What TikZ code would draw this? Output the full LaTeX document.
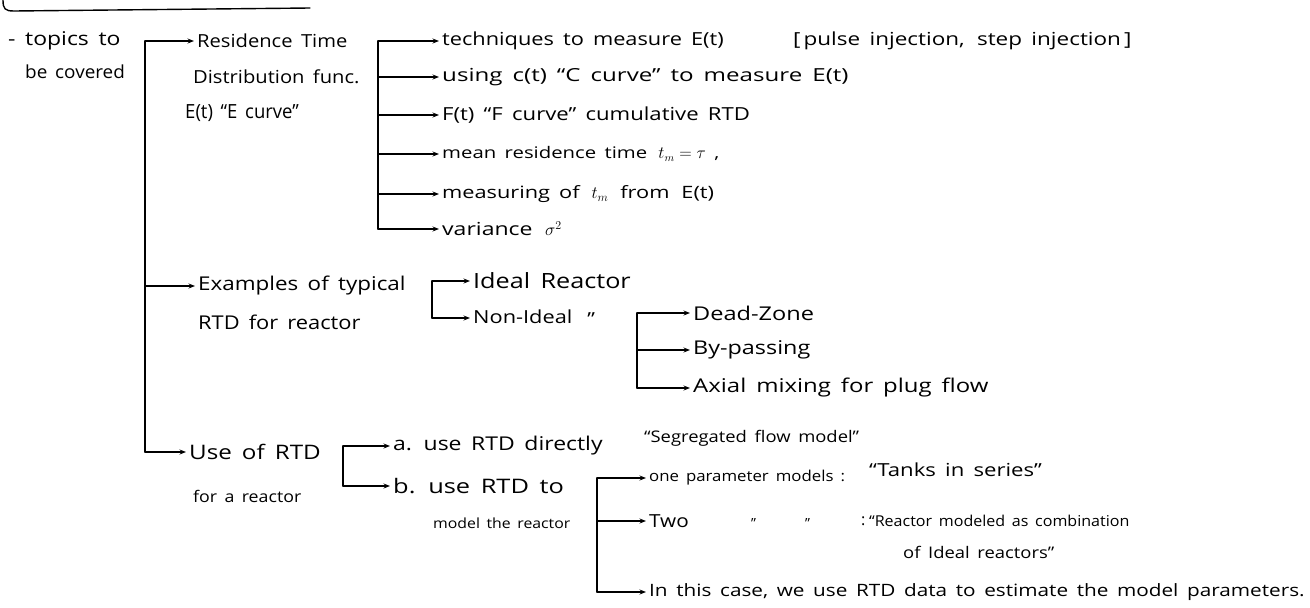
\documentclass[tikz,border=0pt]{standalone}
\usepackage{fontspec}
\setmainfont{Open Sans}[WordSpace=1.6]
\usetikzlibrary{arrows.meta}
\begin{document}
\begin{tikzpicture}[x=1pt,y=-1pt,
  t/.style 2 args={anchor=west,inner sep=3pt,font=\fontsize{#1}{#1}\selectfont\addfontfeature{FakeStretch=#2}},
  ln/.style={line width=1.4pt,line cap=round,line join=round},
  arr/.style={ln,-{Stealth[length=6.5pt,width=5pt]}}]
\useasboundingbox (0,0) rectangle (1310,608);
% top frame edge
\draw[ln] (3,0) .. controls (3,9) and (5,11) .. (14,11) -- (310,8);
% root
\node[t={19}{1.21}] (topics) at (5,41) {- topics to};
\node[t={18}{1.05}] (covered) at (22,72) {be covered};
% level 1
\node[t={18}{1.12}] (rtd) at (194,41) {Residence Time};
\node[t={18}{1.12}] (dist) at (190,77) {Distribution func.};
\node[t={19.5}{0.95}] (ecurve) at (182,113) {E(t) ``E curve''};
\node[t={19}{1.18}] (ex) at (195,286) {Examples of typical};
\node[t={19}{1.15}] (ex2) at (195,322) {RTD for reactor};
\node[t={20}{1.21}] (use) at (186,452) {Use of RTD};
\node[t={16}{1.11}] (forr) at (190,496) {for a reactor};
% RTD branch
\node[t={18}{1.21}] (tech) at (439,41) {techniques to measure E(t)};
\node[t={18}{1.25}] (pulse) at (790,41) {[\,pulse injection,\, step injection\,]};
\node[t={18}{1.34}] (using) at (439,77) {using c(t) ``C curve'' to measure E(t)};
\node[t={18}{1.23}] (fcurve) at (439,115) {F(t) ``F curve'' cumulative RTD};
\node[t={16}{1.27}] (mean) at (439,154) {mean residence time \,$t_m=\tau$ ,};
\node[t={17}{1.28}] (meas) at (439,194) {measuring of \,$t_m$\, from \,E(t)};
\node[t={18}{1.28}] (var) at (439,229) {variance \,$\sigma^2$};
% examples branch
\node[t={21}{1.2}] (ideal) at (470,281) {Ideal Reactor};
\node[t={18}{1.21}] (nonideal) at (470,318) {Non-Ideal \,\,\raisebox{-2pt}{''}};
\node[t={19}{1.24}] (dead) at (690,313) {Dead-Zone};
\node[t={19}{1.23}] (bypass) at (690,350) {By-passing};
\node[t={19}{1.26}] (axial) at (690,388) {Axial mixing for plug flow};
% use branch
\node[t={19}{1.21}] (a) at (390,446) {a. use RTD directly};
\node[t={16}{1.15}] (seg) at (641,438) {``Segregated flow model''};
\node[t={20}{1.27}] (b) at (390,486) {b. use RTD to};
\node[t={14}{1.13}] (model) at (430,523) {model the reactor};
\node[t={15}{1.12}] (one) at (646,478) {one parameter models :};
\node[t={18}{1.23}] (tanks) at (866,470) {``Tanks in series''};
\node[t={18}{1.15}] (two) at (646,521) {Two};
\node[t={14}{1.0}] (d1) at (748,523) {''};
\node[t={14}{1.0}] (d2) at (802,523) {''};
\node[t={16}{1.0}] (colon) at (858,521) {:};
\node[t={15}{1.07}] (comb) at (866,521) {``Reactor modeled as combination};
\node[t={16}{1.15}] (comb2) at (900,552) {of Ideal reactors''};
\node[t={17}{1.22}] (case) at (646,592) {In this case, we use RTD data to estimate the model parameters.};
% bracket anchors
\coordinate (m0) at (145,41);
\coordinate (c2) at (378,41);
\coordinate (c3) at (432,281);
\coordinate (c4) at (637,313);
\coordinate (c5) at (343,446);
\coordinate (c6) at (597,478);
% main bracket
\draw[ln] (m0) -- (m0 |- use.west);
\draw[arr] (m0) -- (rtd.west);
\draw[arr] (m0 |- ex.west) -- (ex.west);
\draw[arr] (m0 |- use.west) -- (use.west);
% RTD bracket
\draw[ln] (c2) -- (c2 |- var.west);
\foreach \n in {tech,using,fcurve,mean,meas,var}
  \draw[arr] (c2 |- \n.west) -- (\n.west);
% ideal bracket
\draw[ln] (c3 |- ideal.west) -- (c3 |- nonideal.west);
\draw[arr] (c3 |- ideal.west) -- (ideal.west);
\draw[arr] (c3 |- nonideal.west) -- (nonideal.west);
% non-ideal bracket
\draw[ln] (c4 |- dead.west) -- (c4 |- axial.west);
\foreach \n in {dead,bypass,axial}
  \draw[arr] (c4 |- \n.west) -- (\n.west);
% a/b bracket
\draw[ln] (c5 |- a.west) -- (c5 |- b.west);
\draw[arr] (c5 |- a.west) -- (a.west);
\draw[arr] (c5 |- b.west) -- (b.west);
% model bracket
\draw[ln] (c6 |- one.west) -- (c6 |- case.west);
\foreach \n in {one,two,case}
  \draw[arr] (c6 |- \n.west) -- (\n.west);
\end{tikzpicture}
\end{document}
